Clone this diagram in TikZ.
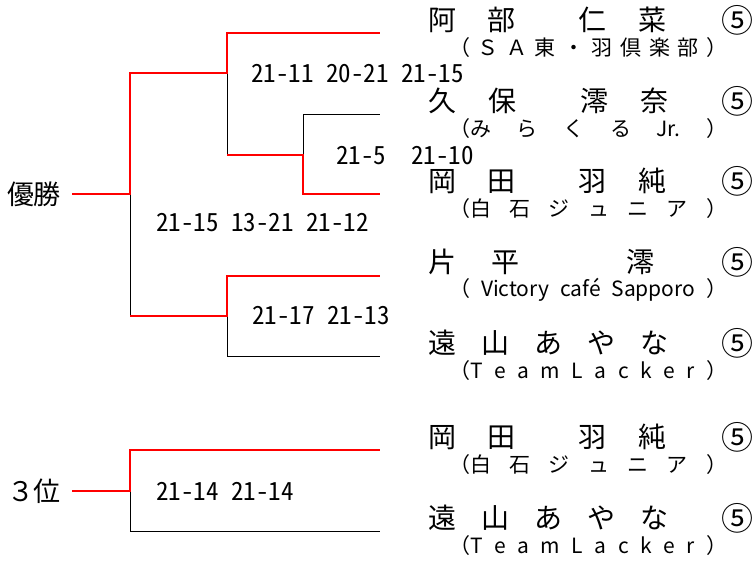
\documentclass[tikz,border=0pt]{standalone}
\usepackage{fontspec}
\setmainfont{Noto Sans CJK JP}
\newfontfamily\scorefont{Noto Sans CJK JP}[RawFeature=+hwid]
\usetikzlibrary{positioning}

\def\spreadstop{\relax}
\def\spreadfirst#1{#1\spreadrest}
\def\spreadrest#1{\def\spreadarg{#1}\ifx\spreadarg\spreadstop\else\hfil#1\expandafter\spreadrest\fi}
\newcommand\spreadto[2]{\makebox[#1][s]{\spreadfirst#2\relax}}

\tikzset{
	namebox/.style={anchor=west,inner sep=0pt,font=\fontsize{28}{30}\selectfont},
	clubbox/.style={anchor=west,inner sep=0pt,font=\fontsize{21}{23}\selectfont},
	seedmark/.style={inner sep=0pt,font=\fontsize{32}{34}\selectfont},
	scorebox/.style={anchor=west,inner sep=0pt,font=\scorefont\fontsize{25}{27}\selectfont},
	placebox/.style={inner sep=0pt,font=\fontsize{27}{29}\selectfont},
	winline/.style={red,line width=2pt},
	loseline/.style={black,line width=0.8pt}
}

\begin{document}
\begin{tikzpicture}[x=1pt,y=-1pt]
			\useasboundingbox (0,0) rectangle (753,561);

			\coordinate (Win)   at (72,194);
			\coordinate (Root)  at (130,194);
			\coordinate (RootT) at (130,73);
			\coordinate (RootB) at (130,316);
			\coordinate (SemiA) at (227,73);
			\coordinate (SemiAT) at (227,33);
			\coordinate (SemiAB) at (227,155);
			\coordinate (Quarter) at (303,155);
			\coordinate (QuarterT) at (303,114);
			\coordinate (QuarterB) at (303,194);
			\coordinate (SemiB) at (227,316);
			\coordinate (SemiBT) at (227,276);
			\coordinate (SemiBB) at (227,356);
			\coordinate (Entry1) at (380,33);
			\coordinate (Entry2) at (380,114);
			\coordinate (Entry3) at (380,194);
			\coordinate (Entry4) at (380,276);
			\coordinate (Entry5) at (380,356);
			\coordinate (Third)  at (72,491);
			\coordinate (ThirdJ) at (130,491);
			\coordinate (ThirdT) at (130,450);
			\coordinate (ThirdB) at (130,531);
			\coordinate (Entry6) at (380,450);
			\coordinate (Entry7) at (380,531);

			\node[placebox] (Champion) at (34,194) {優勝};
			\node[placebox] (ThirdPlace) at (34,491) {３位};

			\node[namebox] (Abe)    at (428,20)  {\spreadto{238pt}{阿部{}仁菜}};
			\node[clubbox] (AbeClub) at (449,48) {\spreadto{278pt}{（ＳＡ東・羽倶楽部）}};
			\node[namebox] (Kubo)   at (428,101) {\spreadto{240pt}{久保{}澪奈}};
			\node[clubbox] (KuboClub) at (449,129) {\spreadto{278pt}{{（み}らくる{Jr.}）}};
			\node[namebox] (Okada)  at (428,181) {\spreadto{238pt}{岡田{}羽純}};
			\node[clubbox] (OkadaClub) at (449,209) {\spreadto{278pt}{{（白}石ジュニア）}};
			\node[namebox] (Katahira) at (428,262) {\spreadto{226pt}{片平{}{}澪}};
			\node[clubbox] (KatahiraClub) at (449,290) {\spreadto{278pt}{（{Victory}{café}{Sapporo}）}};
			\node[namebox] (Toyama) at (428,343) {\spreadto{240pt}{遠山あやな}};
			\node[clubbox] (ToyamaClub) at (449,371) {\spreadto{278pt}{{（T}eamLacker）}};
			\node[namebox] (OkadaB) at (428,437) {\spreadto{238pt}{岡田{}羽純}};
			\node[clubbox] (OkadaBClub) at (449,465) {\spreadto{278pt}{{（白}石ジュニア）}};
			\node[namebox] (ToyamaB) at (428,518) {\spreadto{240pt}{遠山あやな}};
			\node[clubbox] (ToyamaBClub) at (449,546) {\spreadto{278pt}{{（T}eamLacker）}};

			\foreach \y/\n in {20/1,101/2,181/3,262/4,343/5,437/6,518/7}
				\node[seedmark] (Seed\n) at (737,\y) {⑤};

			\node[scorebox] (ScoreSemiA) at (251,74)  {21-11 20-21 21-15};
			\node[scorebox] (ScoreQuarter) at (336,156) {21-5~ 21-10};
			\node[scorebox] (ScoreFinal) at (156,223) {21-15 13-21 21-12};
			\node[scorebox] (ScoreSemiB) at (252,316) {21-17 21-13};
			\node[scorebox] (ScoreThird) at (156,491) {21-14 21-14};

			\draw[loseline] (SemiA) -- (SemiAB);
			\draw[loseline] (Quarter) -- (QuarterT) -- (Entry2);
			\draw[loseline] (Root) -- (RootB);
			\draw[loseline] (SemiB) -- (SemiBB) -- (Entry5);
			\draw[loseline] (ThirdJ) -- (ThirdB) -- (Entry7);

			\draw[winline] (Win) -- (Root) -- (RootT) -- (SemiA) -- (SemiAT) -- (Entry1);
			\draw[winline] (SemiAB) -- (Quarter) -- (QuarterB) -- (Entry3);
			\draw[winline] (RootB) -- (SemiB) -- (SemiBT) -- (Entry4);
			\draw[winline] (Third) -- (ThirdJ) -- (ThirdT) -- (Entry6);
		\end{tikzpicture}
\end{document}
